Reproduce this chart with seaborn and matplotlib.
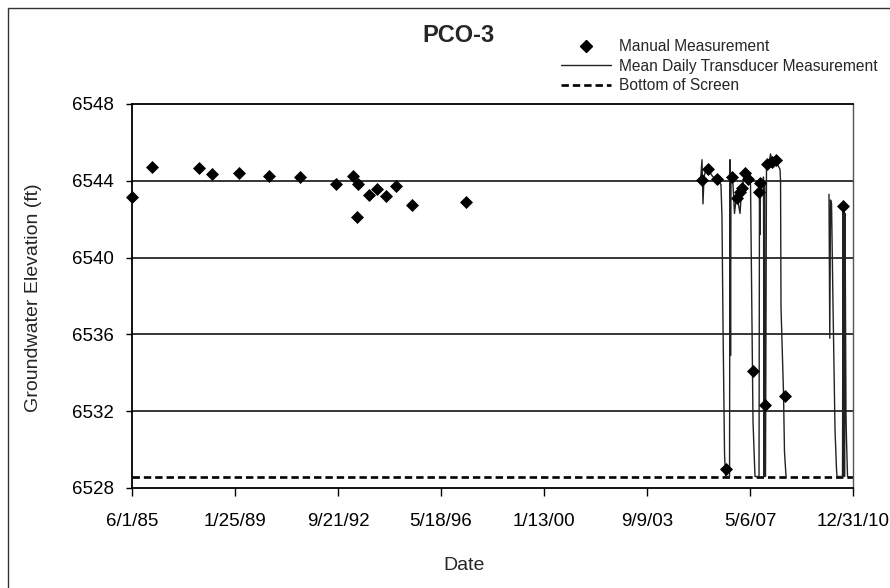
import matplotlib
matplotlib.use('Agg')
import matplotlib.pyplot as plt
from matplotlib.patches import Rectangle
import seaborn as sns
import pandas as pd

# manual measurements (date, groundwater elevation ft)
manual_dates = ['1985-06-01', '1986-02-18', '1987-10-17', '1988-04-07', '1989-03-23',
                '1990-04-12', '1991-05-22', '1992-08-23', '1993-04-08', '1993-06-12',
                '1993-05-26', '1993-10-25', '1994-02-13', '1994-06-02', '1994-10-17',
                '1995-05-09', '1997-04-12',
                '2005-08-18', '2005-11-12', '2006-03-01', '2006-06-29', '2006-09-11',
                '2006-11-15', '2006-12-28', '2007-01-19', '2007-03-02', '2007-04-14',
                '2007-06-10', '2007-09-04', '2007-09-13', '2007-11-17', '2007-12-09',
                '2008-02-12', '2008-04-07', '2008-08-02', '2010-08-27']
manual_elev = [6543.18, 6544.74, 6544.65, 6544.35, 6544.43,
               6544.26, 6544.18, 6543.82, 6544.26, 6543.82,
               6542.09, 6543.26, 6543.55, 6543.20, 6543.72,
               6542.76, 6542.87,
               6544.05, 6544.60, 6544.10, 6529.00, 6544.20,
               6543.10, 6543.40, 6543.60, 6544.40, 6544.10,
               6534.10, 6543.40, 6543.90, 6532.30, 6544.90,
               6545.00, 6545.10, 6532.80, 6542.70]

# mean daily transducer record, two deployments
trans_dates_1 = ['2005-08-03', '2005-08-22', '2005-09-04', '2005-09-17', '2005-10-13',
                 '2005-11-21', '2006-01-12', '2006-03-05', '2006-04-25', '2006-05-08',
                 '2006-05-21', '2006-06-10', '2006-06-23', '2006-08-14', '2006-08-20',
                 '2006-08-27', '2006-09-02', '2006-09-28', '2006-10-17', '2006-11-06',
                 '2006-12-02', '2006-12-28', '2007-01-16', '2007-02-11', '2007-03-09',
                 '2007-04-10', '2007-05-13', '2007-05-19', '2007-06-01', '2007-06-14',
                 '2007-06-27', '2007-07-10', '2007-08-31', '2007-09-06', '2007-09-13',
                 '2007-09-19', '2007-10-09', '2007-10-28', '2007-11-04', '2007-11-10',
                 '2007-11-16', '2007-11-23',
                 '2007-12-06', '2008-01-01', '2008-01-27', '2008-02-22', '2008-03-25',
                 '2008-04-20', '2008-05-29', '2008-06-05', '2008-06-11', '2008-07-13',
                 '2008-07-26', '2008-08-15']
trans_elev_1 = [6544.0, 6545.1, 6542.8, 6544.2, 6544.6,
                6544.5, 6544.2, 6544.1, 6543.8, 6542.1,
                6536.6, 6529.8, 6528.6, 6528.6, 6545.1,
                6534.9, 6544.2, 6543.8, 6542.3, 6543.0,
                6542.9, 6542.3, 6543.5, 6544.0, 6544.5,
                6544.2, 6543.8, 6541.5, 6536.5, 6531.5,
                6530.0, 6528.6, 6528.6, 6543.5, 6541.2,
                6543.6, 6543.9, 6544.2, 6528.6, 6544.0,
                6528.6, 6528.6,
                6544.9, 6544.8, 6545.4, 6544.9, 6545.1,
                6544.9, 6544.6, 6544.0, 6537.4, 6533.0,
                6529.9, 6528.6]
trans_dates_2 = ['2010-02-23', '2010-03-05', '2010-03-15', '2010-03-28', '2010-04-16',
                 '2010-05-12', '2010-05-31', '2010-06-07', '2010-08-17', '2010-08-24',
                 '2010-08-30', '2010-09-03', '2010-09-06', '2010-09-12', '2010-09-19',
                 '2010-10-01', '2010-10-08', '2010-10-21']
trans_elev_2 = [6543.3, 6535.8, 6543.0, 6542.8, 6537.5,
                6531.0, 6529.0, 6528.6, 6528.6, 6542.7,
                6528.6, 6542.6, 6542.5, 6528.6, 6542.3,
                6531.9, 6530.5, 6528.6]

bottom_of_screen = 6528.55

x_tick_dates = ['1985-06-01', '1989-01-25', '1992-09-21', '1996-05-18',
                '2000-01-13', '2003-09-09', '2007-05-06', '2010-12-31']
x_tick_labels = ['6/1/85', '1/25/89', '9/21/92', '5/18/96',
                 '1/13/00', '9/9/03', '5/6/07', '12/31/10']
y_ticks = [6528, 6532, 6536, 6540, 6544, 6548]

manual_df = pd.DataFrame({'date': pd.to_datetime(manual_dates), 'elev': manual_elev})
trans_df = pd.concat([
    pd.DataFrame({'date': pd.to_datetime(trans_dates_1), 'elev': trans_elev_1, 'seg': 1}),
    pd.DataFrame({'date': pd.to_datetime(trans_dates_2), 'elev': trans_elev_2, 'seg': 2}),
], ignore_index=True)

sns.set_style('white')
plt.rcParams['font.family'] = ['Liberation Sans', 'DejaVu Sans']

W, H = 890, 588
fig = plt.figure(figsize=(W / 100, H / 100), dpi=100)
ax = fig.add_axes([132 / W, 100 / H, 721 / W, 384 / H])

# horizontal gridlines
for yv in y_ticks[1:-1]:
    ax.axhline(yv, color='black', lw=1.1, zorder=1)

# bottom of screen
ax.axhline(bottom_of_screen, color='black', lw=1.9, linestyle=(0, (2.8, 1.5)), zorder=2)

sns.lineplot(data=trans_df, x='date', y='elev', units='seg', estimator=None,
             color='#222222', lw=1.0, sort=False, ax=ax, zorder=3, legend=False)

sns.scatterplot(data=manual_df, x='date', y='elev', marker='D', s=44, color='black',
                linewidth=0, ax=ax, zorder=4, clip_on=False, legend=False)

ax.set_xlim(pd.Timestamp('1985-06-01'), pd.Timestamp('2010-12-31'))
ax.set_ylim(6528, 6548)
ax.set_yticks(y_ticks)
ax.set_yticklabels([str(v) for v in y_ticks])
ax.set_xticks(pd.to_datetime(x_tick_dates))
ax.set_xticklabels(x_tick_labels)
ax.tick_params(axis='x', direction='out', length=6, width=1, pad=12, labelsize=13.5,
               bottom=True, colors='black')
ax.tick_params(axis='y', direction='out', length=4.5, width=1, pad=8.5, labelsize=13.5,
               left=True, colors='black')
ax.set_xlabel('')
ax.set_ylabel('')

for side in ['left', 'bottom', 'top']:
    ax.spines[side].set_color('black')
    ax.spines[side].set_linewidth(1.3)
ax.spines['right'].set_color('#555555')
ax.spines['right'].set_linewidth(1.0)

fig.text(459 / W, 1 - 35 / H, 'PCO-3', ha='center', va='center', fontsize=17, weight='bold')
fig.text(464 / W, 1 - 566 / H, 'Date', ha='center', va='center', fontsize=14)
fig.text(34 / W, 1 - 298 / H, 'Groundwater Elevation (ft)', ha='center', va='center',
         rotation=90, fontsize=14)

# legend
handles = [
    plt.Line2D([], [], marker='D', markersize=6.2, color='black', linestyle='none'),
    plt.Line2D([], [], color='#222222', lw=1.0),
    plt.Line2D([], [], color='black', lw=1.9, linestyle=(0, (2.8, 1.5))),
]
labels = ['Manual Measurement', 'Mean Daily Transducer Measurement', 'Bottom of Screen']
fig.legend(handles, labels, loc='upper left', bbox_to_anchor=(561 / W, 1 - 39 / H),
           frameon=False, fontsize=11.2, handlelength=3.2, handletextpad=0.5,
           labelspacing=0.3, borderpad=0, borderaxespad=0)

# outer chart frame
fig.patches.append(Rectangle((8 / W, -0.05), 1.0, 1.05 - 8 / H, transform=fig.transFigure,
                             fill=False, ec='#333333', lw=1.0))

fig.savefig('out.png', dpi=100)
